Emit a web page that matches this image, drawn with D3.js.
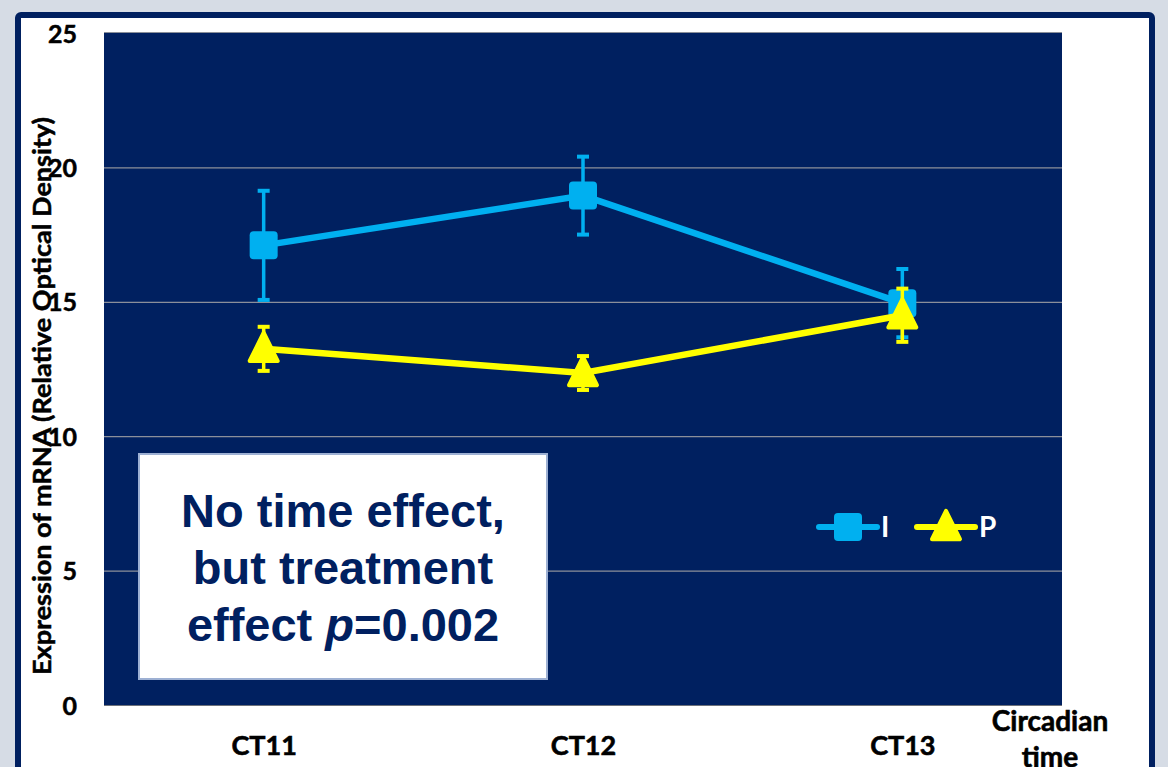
<!DOCTYPE html>
<html><head><meta charset="utf-8">
<script src="https://cdn.jsdelivr.net/npm/d3@7"></script>
<style>html,body{margin:0;padding:0;background:#d6dce5;overflow:hidden}</style>
</head><body><svg id="c" width="1168" height="767"></svg>
<script>
const categories = ["CT11", "CT12", "CT13"];
const seriesNames = ["I", "P"];
const iValues = [17.1, 18.95, 14.95];
const iErrors = [2.03, 1.45, 1.27];
const pValues = [13.25, 12.35, 14.5];
const pErrors = [0.82, 0.63, 0.99];
const yTicks = [0, 5, 10, 15, 20, 25];
const yTitle = "Expression of mRNA (Relative Optical Density)";
const xTitleLines = ["Circadian", "time"];
const noteLines = ["No time effect,", "but treatment"];

const NAVY = "#002060";
const series = [
  {name: seriesNames[0], values: iValues, errors: iErrors, color: "#00b0f0", shape: "square"},
  {name: seriesNames[1], values: pValues, errors: pErrors, color: "#ffff00", shape: "triangle"}
];
const FONT = "Lato, 'Open Sans', sans-serif";

const svg = d3.select("#c");
svg.append("rect").attr("width", 1168).attr("height", 767).attr("fill", "#d6dce5");
svg.append("rect").attr("x", 18).attr("y", 15).attr("width", 1134).attr("height", 800)
  .attr("rx", 3).attr("fill", "#ffffff").attr("stroke", NAVY).attr("stroke-width", 6);

const plot = {left: 104, top: 33, right: 1062, bottom: 705};
const x = d3.scalePoint().domain(categories).range([plot.left, plot.right]).padding(0.5);
const y = d3.scaleLinear().domain([0, 25]).range([plot.bottom, plot.top]);

svg.append("rect").attr("x", plot.left).attr("y", plot.top)
  .attr("width", plot.right - plot.left).attr("height", plot.bottom - plot.top).attr("fill", NAVY);
svg.append("line").attr("x1", plot.left).attr("x2", plot.right).attr("y1", plot.top - 0.5).attr("y2", plot.top - 0.5)
  .attr("stroke", "#8a8f99").attr("stroke-width", 1);
svg.append("line").attr("x1", plot.left).attr("x2", plot.right).attr("y1", plot.bottom + 0.5).attr("y2", plot.bottom + 0.5)
  .attr("stroke", "#6d717a").attr("stroke-width", 1.2);

const grid = d3.axisLeft(y).tickValues(yTicks.filter(t => t > 0 && t < 25)).tickSize(-(plot.right - plot.left)).tickFormat("");
const gg = svg.append("g").attr("transform", `translate(${plot.left},0)`).call(grid);
gg.select(".domain").remove();
gg.selectAll("line").attr("stroke", "#8b8f9a").attr("stroke-width", 1.3);

const ya = d3.axisLeft(y).tickValues(yTicks).tickSize(0).tickPadding(0);
const yg = svg.append("g").attr("transform", `translate(77,0)`).call(ya);
yg.select(".domain").remove();
yg.selectAll("text").attr("font-family", FONT).attr("font-weight", "bold")
  .attr("font-size", 25).attr("fill", "#000").attr("stroke", "#000").attr("stroke-width", 0.5).attr("dy", "0.36em");

svg.append("text").attr("transform", "translate(51,396) rotate(-90)").attr("text-anchor", "middle")
  .attr("font-family", FONT).attr("font-weight", "bold").attr("font-size", 24.5)
  .attr("textLength", 558).attr("lengthAdjust", "spacingAndGlyphs").attr("fill", "#000")
  .attr("stroke", "#000").attr("stroke-width", 0.5).text(yTitle);

const xa = d3.axisBottom(x).tickSize(0).tickPadding(0);
const xg = svg.append("g").attr("transform", `translate(0,755)`).call(xa);
xg.select(".domain").remove();
xg.selectAll("text").attr("font-family", FONT).attr("font-weight", "bold")
  .attr("font-size", 27).attr("fill", "#000").attr("stroke", "#000").attr("stroke-width", 0.6).attr("dy", 0);

const xt = svg.append("text").attr("text-anchor", "middle").attr("font-family", FONT)
  .attr("font-weight", "bold").attr("font-size", 28).attr("fill", "#000").attr("stroke", "#000").attr("stroke-width", 0.6);
xTitleLines.forEach((t, i) => xt.append("tspan").attr("x", 1050).attr("y", 731 + i * 36).text(t));

svg.append("rect").attr("x", 139).attr("y", 454).attr("width", 408).attr("height", 225)
  .attr("fill", "#fff").attr("stroke", "#9db0d3").attr("stroke-width", 2);
const nt = svg.append("text").attr("text-anchor", "middle").attr("font-family", "'Liberation Sans', Arial, sans-serif")
  .attr("font-weight", "bold").attr("font-size", 47).attr("fill", NAVY);
noteLines.forEach((t, i) => nt.append("tspan").attr("x", 343).attr("y", 527 + i * 57).text(t));
const l3 = nt.append("tspan").attr("x", 343).attr("y", 641);
l3.append("tspan").text("effect ");
l3.append("tspan").attr("font-style", "italic").text("p");
l3.append("tspan").text("=0.002");

function marker(g, shape, cx, cy, color) {
  if (shape === "square") {
    g.append("rect").attr("x", cx - 14).attr("y", cy - 14).attr("width", 28).attr("height", 28)
      .attr("rx", 4).attr("fill", color);
  } else {
    const h = 27, w = 28;
    g.append("path").attr("d", `M${cx},${cy - h * 0.6}L${cx + w / 2},${cy + h * 0.45}L${cx - w / 2},${cy + h * 0.45}Z`)
      .attr("fill", color).attr("stroke", color).attr("stroke-width", 4).attr("stroke-linejoin", "round");
  }
}

const line = d3.line().x((d, i) => x(categories[i])).y(d => y(d));
series.forEach(s => {
  const g = svg.append("g");
  g.append("path").datum(s.values).attr("d", line).attr("fill", "none")
    .attr("stroke", s.color).attr("stroke-width", 6.5);
  s.values.forEach((v, i) => {
    const cx = x(categories[i]);
    const y1 = y(v + s.errors[i]), y2 = y(v - s.errors[i]);
    g.append("line").attr("x1", cx).attr("x2", cx).attr("y1", y1).attr("y2", y2)
      .attr("stroke", s.color).attr("stroke-width", 3.5);
    [y1, y2].forEach(yy => g.append("line").attr("x1", cx - 6).attr("x2", cx + 6).attr("y1", yy).attr("y2", yy)
      .attr("stroke", s.color).attr("stroke-width", 4));
    marker(g, s.shape, cx, y(v), s.color);
  });
});

const legend = [{x0: 819}, {x0: 917}];
series.forEach((s, i) => {
  const g = svg.append("g");
  const x0 = legend[i].x0, ly = 527;
  g.append("line").attr("x1", x0).attr("x2", x0 + 58).attr("y1", ly).attr("y2", ly)
    .attr("stroke", s.color).attr("stroke-width", 6).attr("stroke-linecap", "round");
  marker(g, s.shape, x0 + 29, ly, s.color);
  g.append("text").attr("x", x0 + 62).attr("y", ly + 10).attr("font-family", FONT)
    .attr("font-weight", "bold").attr("font-size", 28).attr("fill", "#fff").text(s.name);
});
</script></body></html>
